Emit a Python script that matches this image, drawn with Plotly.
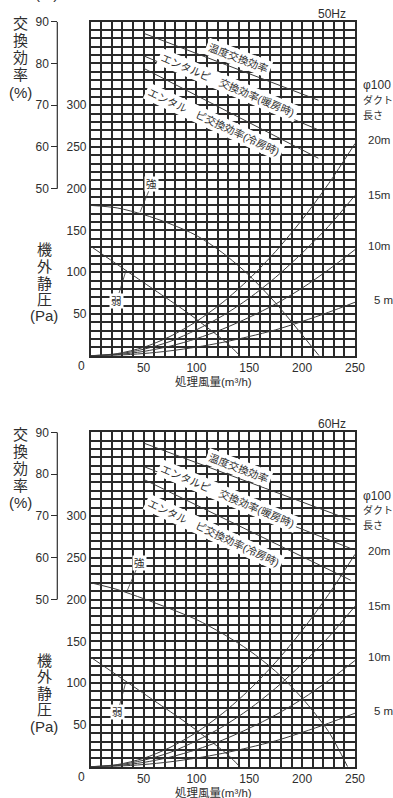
import plotly.graph_objects as go

W, H = 393, 798
FONT = "Liberation Sans, Noto Sans CJK JP, sans-serif"
INK = "#2e2e2e"
GRID = "#2a2a2a"
CURVE = "#3a3a3a"

# duct resistance curves (phi100 duct), flow in m3/h, pressure in Pa
DUCT_Q = [0, 25, 50, 75, 100, 125, 150, 175, 200, 225, 250]
DUCT_20M = [0, 2.5, 10, 23, 41, 64, 92, 125, 163, 206, 254]
DUCT_15M = [0, 1.9, 7.7, 17, 31, 48, 69, 94, 123, 155, 192]
DUCT_10M = [0, 1.3, 5.1, 11.4, 20.4, 32, 46, 62, 81, 103, 127]
DUCT_5M = [0, 0.6, 2.6, 5.8, 10.3, 16, 23, 31, 41, 52, 64]
DUCT_LABELS = ["20m", "15m", "10m", "5 m"]

# fan curves
WEAK_Q = [0, 30, 60, 90, 110, 130, 141]
WEAK_PA = [131, 105, 79, 53, 34, 14, 0]
STRONG_50_Q = [0, 25, 50, 75, 100, 125, 150, 175, 200, 216]
STRONG_50_PA = [180, 177, 169, 158, 144, 123, 96, 63, 25, 0]
STRONG_60_Q = [0, 25, 50, 75, 100, 125, 150, 175, 200, 225, 243]
STRONG_60_PA = [220, 212, 201, 189, 176, 159, 139, 114, 82, 42, 0]

# exchange efficiency (%)
EFF_50_Q = [50.4, 215.3]
EFF_50_TEMP = [87.2, 71.2]
EFF_50_HEAT = [81.8, 64.1]
EFF_50_COOL = [78.8, 57.3]
EFF_60_Q = [50.4, 246]
EFF_60_TEMP = [87.4, 69.0]
EFF_60_HEAT = [81.8, 62.2]
EFF_60_COOL = [78.7, 54.6]

EFF_TEXTS = ["温度交換効率", "エンタルピ　交換効率(暖房時)", "エンタル　ピ交換効率(冷房時)"]

X_TICKS = list(range(0, 251, 10))
Y_TICKS = list(range(0, 401, 10))
EFF_TICKS = [50, 60, 70, 80, 90]

PLOT_X0, PLOT_X1 = 90.7, 355.0
EFF_AXIS_X = 57.3


def fx(px):
    return px / W


def fy(py):
    return 1 - py / H


panels = [
    dict(hz="50Hz", top=21.7, bottom=355.7, xa="x", ya="y", ea="y2",
         strong=(STRONG_50_Q, STRONG_50_PA), eff_q=EFF_50_Q,
         eff=[EFF_50_TEMP, EFF_50_HEAT, EFF_50_COOL]),
    dict(hz="60Hz", top=432.3, bottom=766.7, xa="x2", ya="y3", ea="y4",
         strong=(STRONG_60_Q, STRONG_60_PA), eff_q=EFF_60_Q,
         eff=[EFF_60_TEMP, EFF_60_HEAT, EFF_60_COOL]),
]

fig = go.Figure()
annotations = []
shapes = []
axes = {}


def line_trace(x, y, xa, ya):
    return go.Scatter(
        x=x, y=y, xaxis=xa, yaxis=ya, mode="lines",
        line=dict(color=CURVE, width=1, shape="spline", smoothing=0.8),
        hoverinfo="skip", showlegend=False,
    )


def text(x, y, s, size=12, xref="paper", yref="paper", **kw):
    d = dict(x=x, y=y, xref=xref, yref=yref, text=s, showarrow=False,
             xanchor="center", yanchor="middle",
             font=dict(family=FONT, size=size, color=INK))
    d.update(kw)
    annotations.append(d)


for n, p in enumerate(panels):
    xa, ya, ea = p["xa"], p["ya"], p["ea"]
    top, bottom = p["top"], p["bottom"]

    for duct in [DUCT_20M, DUCT_15M, DUCT_10M, DUCT_5M]:
        fig.add_trace(line_trace(DUCT_Q, duct, xa, ya))
    fig.add_trace(line_trace(WEAK_Q, WEAK_PA, xa, ya))
    fig.add_trace(line_trace(p["strong"][0], p["strong"][1], xa, ya))
    for eff in p["eff"]:
        fig.add_trace(line_trace(p["eff_q"], eff, xa, ea))

    xkey = "xaxis" if n == 0 else "xaxis2"
    ykey = "yaxis" if n == 0 else "yaxis3"
    ekey = "yaxis2" if n == 0 else "yaxis4"
    axes[xkey] = dict(
        domain=[fx(PLOT_X0), fx(PLOT_X1)], anchor=ya, range=[0, 250],
        tickvals=X_TICKS,
        ticktext=[str(v) if v % 50 == 0 and v > 0 else "" for v in X_TICKS],
        ticks="", showgrid=True, gridcolor=GRID, gridwidth=1.5,
        showline=True, mirror=True, linecolor=GRID, linewidth=1.5,
        zeroline=False, fixedrange=True, automargin=False,
        tickfont=dict(family=FONT, size=12, color=INK),
    )
    axes[ykey] = dict(
        domain=[fy(bottom), fy(top)], anchor=xa, range=[0, 400],
        tickvals=Y_TICKS,
        ticktext=[str(v) if v % 50 == 0 and 0 < v <= 300 else "" for v in Y_TICKS],
        ticks="", showgrid=True, gridcolor=GRID, gridwidth=1.5,
        showline=True, mirror=True, linecolor=GRID, linewidth=1.5,
        zeroline=False, fixedrange=True, automargin=False,
        tickfont=dict(family=FONT, size=12, color=INK),
    )
    axes[ekey] = dict(
        overlaying=ya, anchor="free", position=fx(EFF_AXIS_X), side="left",
        range=[10, 90], tickvals=EFF_TICKS, ticks="outside", ticklen=6,
        tickwidth=1.2, tickcolor=INK, showgrid=False, zeroline=False,
        showline=False, fixedrange=True, automargin=False,
        tickfont=dict(family=FONT, size=12, color=INK),
    )
    shapes.append(dict(type="line", xref="paper", yref=ea,
                       x0=fx(EFF_AXIS_X), x1=fx(EFF_AXIS_X), y0=50, y1=90,
                       line=dict(color=INK, width=1.2)))

    # frequency label
    text(fx(332), fy(top - 8), p["hz"], size=12)
    # origin label and x title
    text(fx(81.7), fy(bottom + 10.5), "0", size=12)
    text(fx(213), fy(bottom + 25.5), "処理風量(m³/h)", size=11.5)

    # vertical axis titles
    for s, dy in zip(["交", "換", "効", "率", "(%)"], [2, 19, 36, 53, 70.5]):
        text(fx(20), fy(top + dy), s, size=15)
    for s, dy in zip(["機", "外", "静", "圧", "(Pa)"], [228, 244.5, 261.5, 277.5, 294]):
        text(fx(44), fy(top + dy), s, size=15)

    # right side duct legend
    for s, dy in zip(["φ100", "ダクト", "長さ"], [63.5, 78, 93.5]):
        text(fx(361), fy(top + dy), s, size=12 if s[0] == "φ" else 10, xanchor="left")
    for s, dy in zip(DUCT_LABELS, [118.5, 173.5, 224.5, 278.5]):
        text(fx(366 if s != "5 m" else 372), fy(top + dy), s, size=11.5, xanchor="left")

    # efficiency line labels
    for s, q, e, ang in zip(EFF_TEXTS, [139.8, 129.4, 116.8], [81.4, 74.8, 66.0], [21, 23, 25]):
        text(q, e, s, size=10.5, xref=xa, yref=ea, textangle=ang,
             bgcolor="white", borderpad=2)

    # fan labels with leader lines
    strong_pt = (46.7, 172) if n == 0 else (34, 209)
    strong_off = (11.7, -28.3) if n == 0 else (12.6, -29.4)
    weak_pt = (33.4, 102)
    weak_off = (-9.3, 30) if n == 0 else (-8.3, 31)
    for s, pt, off in [("強", strong_pt, strong_off), ("弱", weak_pt, weak_off)]:
        annotations.append(dict(
            x=pt[0], y=pt[1], xref=xa, yref=ya, text=s, showarrow=True,
            arrowhead=0, arrowwidth=0.8, arrowcolor=CURVE, ax=off[0], ay=off[1],
            standoff=0, bgcolor="white", borderpad=1,
            font=dict(family=FONT, size=10.5, color=INK),
        ))

# clipped text at the very top edge
text(fx(46), 1, "(%)", size=15, yanchor="bottom", yshift=-4)

fig.update_layout(
    width=W, height=H, margin=dict(l=0, r=0, t=0, b=0, autoexpand=False),
    paper_bgcolor="white", plot_bgcolor="white",
    font=dict(family=FONT, size=12, color=INK),
    showlegend=False, annotations=annotations, shapes=shapes,
    **axes,
)

fig.write_html(
    "out.html",
    config={"displayModeBar": False},
    post_script="document.body.style.margin='0';document.body.style.overflow='hidden';",
)
